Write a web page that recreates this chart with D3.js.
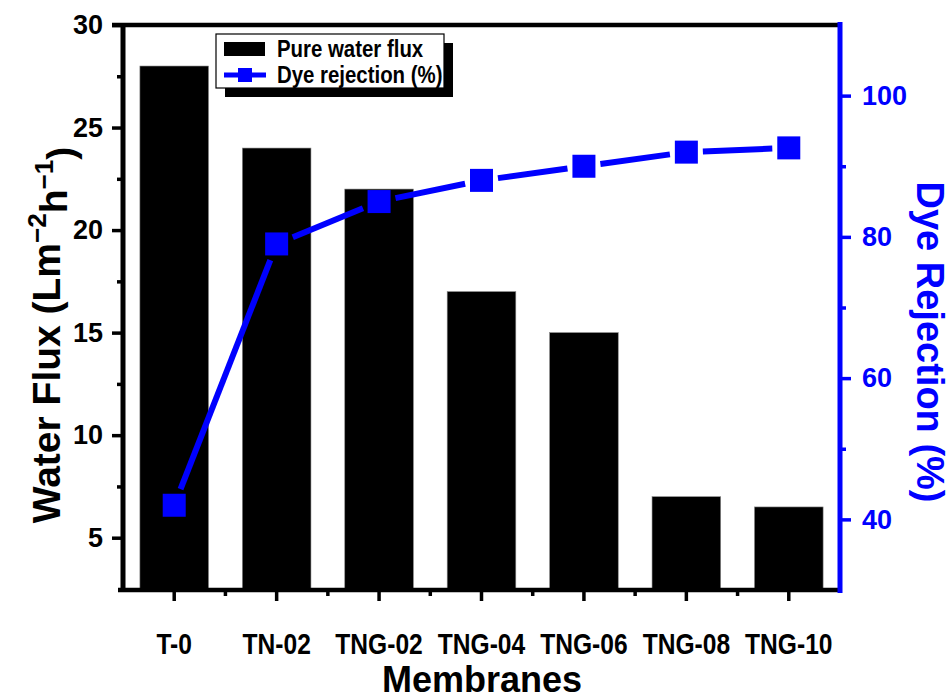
<!DOCTYPE html>
<html>
<head>
<meta charset="utf-8">
<script src="https://cdn.jsdelivr.net/npm/d3@7"></script>
<style>
  html, body { margin: 0; padding: 0; background: #fff; }
  svg { display: block; font-family: "Liberation Sans", Arial, sans-serif; font-weight: bold; }
</style>
</head>
<body>
<svg id="chart" width="950" height="700"></svg>
<script>
// ---- data ----
const categories = ["T-0", "TN-02", "TNG-02", "TNG-04", "TNG-06", "TNG-08", "TNG-10"];
const waterFlux = [28, 24, 22, 17, 15, 7, 6.5];
const dyeRejection = [42, 79, 85, 88, 90, 92, 92.6];
const leftTicks = [5, 10, 15, 20, 25, 30];
const leftMinorTicks = [7.5, 12.5, 17.5, 22.5, 27.5];
const rightTicks = [40, 60, 80, 100];
const rightMinorTicks = [50, 70, 90];
const legendLabels = ["Pure water flux", "Dye rejection (%)"];

const BLUE = "#0000ff";
const svg = d3.select("#chart");
const m = { left: 123, right: 840, top: 25, bottom: 590 };

const x = d3.scaleBand().domain(categories).range([m.left, m.right]).paddingInner(0.33).paddingOuter(0.165);
const yL = d3.scaleLinear().domain([2.45, 30]).range([m.bottom, m.top]);
const yR = d3.scaleLinear().domain([30, 110]).range([m.bottom, m.top]);

// bars
svg.append("g").selectAll("rect").data(categories).join("rect")
  .attr("x", d => x(d))
  .attr("width", x.bandwidth())
  .attr("y", (d, i) => yL(waterFlux[i]))
  .attr("height", (d, i) => yL.range()[0] - yL(waterFlux[i]))
  .attr("fill", "#000")
  .attr("stroke", "#888").attr("stroke-width", 0.6);

// line with gaps at markers
const pts = categories.map((c, i) => [x(c) + x.bandwidth() / 2, yR(dyeRejection[i])]);
const half = 11.5, gap = 5;
const segs = [];
for (let i = 0; i < pts.length - 1; i++) {
  const [x1, y1] = pts[i], [x2, y2] = pts[i + 1];
  const dx = x2 - x1, dy = y2 - y1, len = Math.hypot(dx, dy);
  const ux = dx / len, uy = dy / len;
  const tEdge = Math.min(Math.abs(ux) > 1e-6 ? half / Math.abs(ux) : Infinity, Math.abs(uy) > 1e-6 ? half / Math.abs(uy) : Infinity);
  const s = tEdge + gap;
  segs.push([[x1 + ux * s, y1 + uy * s], [x2 - ux * s, y2 - uy * s]]);
}
svg.append("g").selectAll("line").data(segs).join("line")
  .attr("x1", d => d[0][0]).attr("y1", d => d[0][1])
  .attr("x2", d => d[1][0]).attr("y2", d => d[1][1])
  .attr("stroke", BLUE).attr("stroke-width", 6);
svg.append("g").selectAll("rect").data(pts).join("rect")
  .attr("x", d => d[0] - half).attr("y", d => d[1] - half)
  .attr("width", half * 2).attr("height", half * 2)
  .attr("fill", BLUE);

// axes
function styleAxis(g, color, width) {
  g.select(".domain").remove();
  g.selectAll(".tick line").attr("stroke", color).attr("stroke-width", width);
  g.selectAll("text").attr("fill", color).style("font-weight", "bold");
}
// top border
svg.append("line").attr("x1", m.left - 11).attr("x2", m.right).attr("y1", m.top).attr("y2", m.top)
  .attr("stroke", "#000").attr("stroke-width", 4.5);
// bottom axis
const gB = svg.append("g").attr("transform", `translate(0,${m.bottom})`)
  .call(d3.axisBottom(x).tickSize(11).tickPadding(32));
styleAxis(gB, "#000", 3.5);
gB.selectAll("text").style("font-size", "30px").attr("dy", "0.71em")
  .attr("transform", "scale(0.82,1)");
const boundaries = categories.slice(1).map(c => x(c) - x.step() * x.paddingInner() / 2);
svg.append("g").selectAll("line").data(boundaries).join("line")
  .attr("x1", d => d).attr("x2", d => d).attr("y1", m.bottom).attr("y2", m.bottom + 6)
  .attr("stroke", "#000").attr("stroke-width", 3.5);
svg.append("line").attr("x1", m.left - 5).attr("x2", m.right).attr("y1", m.bottom).attr("y2", m.bottom)
  .attr("stroke", "#000").attr("stroke-width", 4.5);

// left axis
const gL = svg.append("g").attr("transform", `translate(${m.left},0)`)
  .call(d3.axisLeft(yL).tickValues(leftTicks).tickSize(11).tickPadding(9));
styleAxis(gL, "#000", 3.5);
gL.selectAll("text").style("font-size", "27px");
const gLm = svg.append("g").attr("transform", `translate(${m.left},0)`)
  .call(d3.axisLeft(yL).tickValues(leftMinorTicks).tickSize(6).tickFormat(""));
styleAxis(gLm, "#000", 3.5);
svg.append("line").attr("x1", m.left).attr("x2", m.left).attr("y1", m.top - 2).attr("y2", m.bottom + 2)
  .attr("stroke", "#000").attr("stroke-width", 5);

// right axis
const gR = svg.append("g").attr("transform", `translate(${m.right},0)`)
  .call(d3.axisRight(yR).tickValues(rightTicks).tickSize(11).tickPadding(11));
styleAxis(gR, BLUE, 3.5);
gR.selectAll("text").style("font-size", "27px");
const gRm = svg.append("g").attr("transform", `translate(${m.right},0)`)
  .call(d3.axisRight(yR).tickValues(rightMinorTicks).tickSize(6).tickFormat(""));
styleAxis(gRm, BLUE, 3.5);
svg.append("line").attr("x1", m.right).attr("x2", m.right).attr("y1", m.top - 3).attr("y2", m.bottom + 3)
  .attr("stroke", BLUE).attr("stroke-width", 5);

// axis titles
const tL = svg.append("text").attr("transform", `translate(60,335) rotate(-90)`)
  .attr("text-anchor", "middle").style("font-size", "39px").attr("fill", "#000");
tL.append("tspan").text("Water Flux (Lm");
tL.append("tspan").attr("dy", "-0.55em").style("font-size", "26px").text("\u22122");
tL.append("tspan").attr("dy", "0.55em").text("h");
tL.append("tspan").attr("dy", "-0.55em").style("font-size", "26px").text("\u22121");
tL.append("tspan").attr("dy", "0.55em").text(")");

svg.append("text").attr("transform", `translate(917,342) rotate(90)`)
  .attr("text-anchor", "middle").style("font-size", "38px").attr("fill", BLUE)
  .text("Dye Rejection (%)");

svg.append("text").attr("x", 482).attr("y", 692).attr("text-anchor", "middle")
  .style("font-size", "36px").attr("fill", "#000").text("Membranes");

// legend
const lg = svg.append("g");
lg.append("rect").attr("x", 225).attr("y", 43).attr("width", 228).attr("height", 54).attr("fill", "#000");
lg.append("rect").attr("x", 216).attr("y", 34).attr("width", 228).attr("height", 54)
  .attr("fill", "#fff").attr("stroke", "#000").attr("stroke-width", 1.2);
lg.append("rect").attr("x", 224).attr("y", 42).attr("width", 41).attr("height", 14).attr("fill", "#000");
lg.append("line").attr("x1", 224).attr("x2", 266).attr("y1", 75).attr("y2", 75).attr("stroke", BLUE).attr("stroke-width", 5);
lg.append("rect").attr("x", 238).attr("y", 68).attr("width", 14).attr("height", 14).attr("fill", BLUE);
lg.selectAll("text.lt").data(legendLabels).join("text").attr("class", "lt")
  .attr("transform", (d, i) => `translate(277,${57 + i * 26}) scale(0.85,1)`)
  .style("font-size", "24px").attr("fill", "#000").text(d => d);
</script>
</body>
</html>
